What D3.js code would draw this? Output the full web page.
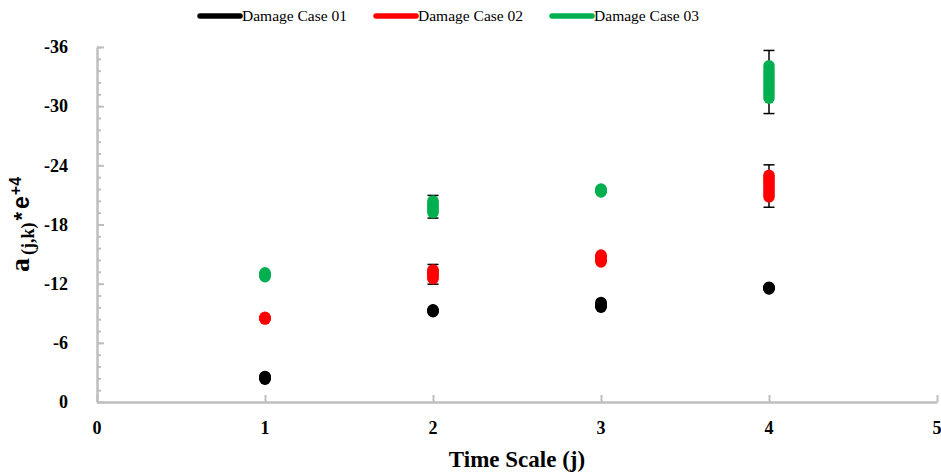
<!DOCTYPE html>
<html>
<head>
<meta charset="utf-8">
<script src="https://cdn.jsdelivr.net/npm/d3@7"></script>
<style>
  body { margin: 0; background: #fff; }
  svg { display: block; font-family: "Liberation Serif", "Times New Roman", serif; }
</style>
</head>
<body>
<script>
// Datos
const timeScales = [1, 2, 3, 4];
const caseNames = ["Damage Case 01", "Damage Case 02", "Damage Case 03"];
const yTicks = [0, -6, -12, -18, -24, -30, -36];
const xTicks = [0, 1, 2, 3, 4, 5];

// valores individuales por escala j (cada grupo = una escala)
const case01 = [
  [-2.3, -2.35, -2.4, -2.45, -2.5, -2.55, -2.6],
  [-9.15, -9.2, -9.25, -9.3, -9.35],
  [-9.6, -9.65, -9.7, -9.8, -9.85, -9.9, -10.0, -10.1],
  [-11.45, -11.5, -11.55, -11.6, -11.65]
];
const case02 = [
  [-8.4, -8.45, -8.5, -8.55, -8.6],
  [-12.5, -12.6, -12.7, -12.85, -12.95, -13.05, -13.2, -13.3, -13.4],
  [-14.2, -14.3, -14.4, -14.5, -14.6, -14.7, -14.8, -14.9],
  [-20.8, -21.0, -21.2, -21.4, -21.6, -21.8, -22.0, -22.2, -22.4, -22.6, -22.8, -23.0]
];
const case03 = [
  [-12.7, -12.8, -12.9, -12.95, -13.0, -13.1],
  [-19.2, -19.35, -19.5, -19.65, -19.8, -19.95, -20.1, -20.25, -20.4],
  [-21.3, -21.35, -21.4, -21.45, -21.5, -21.55, -21.6],
  [-30.8, -31.1, -31.4, -31.7, -32.0, -32.3, -32.6, -32.9, -33.2, -33.5, -33.8, -34.1]
];
// barras de error (± alrededor de la media)
const err01 = [0.1, 0.1, 0.2, 0.1];
const err02 = [0.1, 1.0, 0.3, 2.15];
const err03 = [0.15, 1.15, 0.1, 3.2];

const colors = ["#000000", "#ff0000", "#00b050"];

const width = 941, height = 475;
const svg = d3.select("body").append("svg")
  .attr("width", width)
  .attr("height", height)
  .attr("font-family", "Liberation Serif");

const x = d3.scaleLinear().domain([0, 5]).range([97, 937]);
const y = d3.scaleLinear().domain([0, -36]).range([402, 47]);

const serif = "Liberation Serif";
const sans = "Liberation Sans";
const axisGray = "#bfbfbf";

// eje y con marcas menores (cada 1.2)
const yMinor = d3.range(0, 37, 1.2).map(v => -v);
svg.append("g")
  .attr("transform", "translate(" + x(0) + ",0)")
  .call(d3.axisRight(y).tickValues(yMinor).tickSize(4).tickFormat(""))
  .call(g => g.selectAll("line").attr("stroke", axisGray).attr("stroke-width", 2))
  .call(g => g.select(".domain").remove());

svg.append("g")
  .attr("transform", "translate(" + x(0) + ",0)")
  .call(d3.axisRight(y).tickValues(yTicks).tickSize(7).tickSizeOuter(0).tickFormat(""))
  .call(g => g.selectAll("line").attr("stroke", axisGray).attr("stroke-width", 2))
  .call(g => g.select(".domain").attr("stroke", axisGray).attr("stroke-width", 2.5));

// etiquetas del eje y
svg.append("g").selectAll("text")
  .data(yTicks)
  .join("text")
  .attr("x", 68)
  .attr("y", d => y(d))
  .attr("dy", "0.35em")
  .attr("text-anchor", "end")
  .attr("font-family", serif)
  .attr("font-weight", "bold")
  .attr("font-size", 18)
  .text(d => d);

// eje x
svg.append("g")
  .attr("transform", "translate(0," + y(0) + ")")
  .call(d3.axisTop(x).tickValues(xTicks).tickSize(7).tickSizeOuter(0).tickFormat(""))
  .call(g => g.selectAll("line").attr("stroke", axisGray).attr("stroke-width", 2))
  .call(g => g.select(".domain").attr("stroke", axisGray).attr("stroke-width", 2.5));

svg.append("g").selectAll("text")
  .data(xTicks)
  .join("text")
  .attr("x", d => x(d))
  .attr("y", 434)
  .attr("text-anchor", "middle")
  .attr("font-family", serif)
  .attr("font-weight", "bold")
  .attr("font-size", 18)
  .text(d => d);

// títulos de ejes
svg.append("text")
  .attr("x", 517)
  .attr("y", 467)
  .attr("text-anchor", "middle")
  .attr("font-family", serif)
  .attr("font-weight", "bold")
  .attr("font-size", 23)
  .text("Time Scale (j)");

const yTitle = svg.append("text")
  .attr("transform", "translate(29,272) rotate(-90)")
  .attr("text-anchor", "start")
  .attr("font-weight", "bold");
yTitle.append("tspan").attr("font-family", serif).attr("font-size", 28).text("a");
yTitle.append("tspan").attr("font-family", serif).attr("font-size", 18).attr("dx", 3).attr("dy", 5).text("(j,k)");
yTitle.append("tspan").attr("font-family", sans).attr("font-size", 22).attr("dx", 2).attr("dy", -5).text("*");
yTitle.append("tspan").attr("font-family", sans).attr("font-size", 23).attr("dx", 3).text("e");
yTitle.append("tspan").attr("font-family", sans).attr("font-size", 16).attr("dx", 1).attr("dy", -8).text("+4");

// series
const series = [case01, case02, case03].map((groups, i) => ({
  name: caseNames[i],
  color: colors[i],
  groups: groups,
  err: [err01, err02, err03][i]
}));

series.forEach(s => {
  const g = svg.append("g");
  const stats = s.groups.map((vals, k) => ({ j: timeScales[k], mean: d3.mean(vals), e: s.err[k] }));

  // barras de error
  stats.forEach(d => {
    const top = y(d.mean - d.e), bot = y(d.mean + d.e);
    g.append("line").attr("x1", x(d.j)).attr("x2", x(d.j)).attr("y1", top).attr("y2", bot)
      .attr("stroke", "#000").attr("stroke-width", 1.5);
    [top, bot].forEach(py => g.append("line")
      .attr("x1", x(d.j) - 5.5).attr("x2", x(d.j) + 5.5).attr("y1", py).attr("y2", py)
      .attr("stroke", "#000").attr("stroke-width", 1.5));
  });

  // puntos
  const pts = s.groups.flatMap((vals, k) => vals.map(v => ({ j: timeScales[k], v: v })));
  g.selectAll("circle")
    .data(pts)
    .join("circle")
    .attr("cx", d => x(d.j))
    .attr("cy", d => y(d.v))
    .attr("r", 5.7)
    .attr("fill", s.color);
});

// leyenda
const legend = svg.append("g").attr("transform", "translate(198,16)");
let lx = 0;
series.forEach(s => {
  legend.append("line")
    .attr("x1", lx + 2).attr("x2", lx + 42).attr("y1", 0).attr("y2", 0)
    .attr("stroke", s.color).attr("stroke-width", 5.5).attr("stroke-linecap", "round");
  const t = legend.append("text")
    .attr("x", lx + 44)
    .attr("y", 0)
    .attr("dy", "0.35em")
    .attr("font-family", serif)
    .attr("font-size", 15.5)
    .text(s.name);
  lx += 44 + t.node().getComputedTextLength() + 27;
});
</script>
</body>
</html>
